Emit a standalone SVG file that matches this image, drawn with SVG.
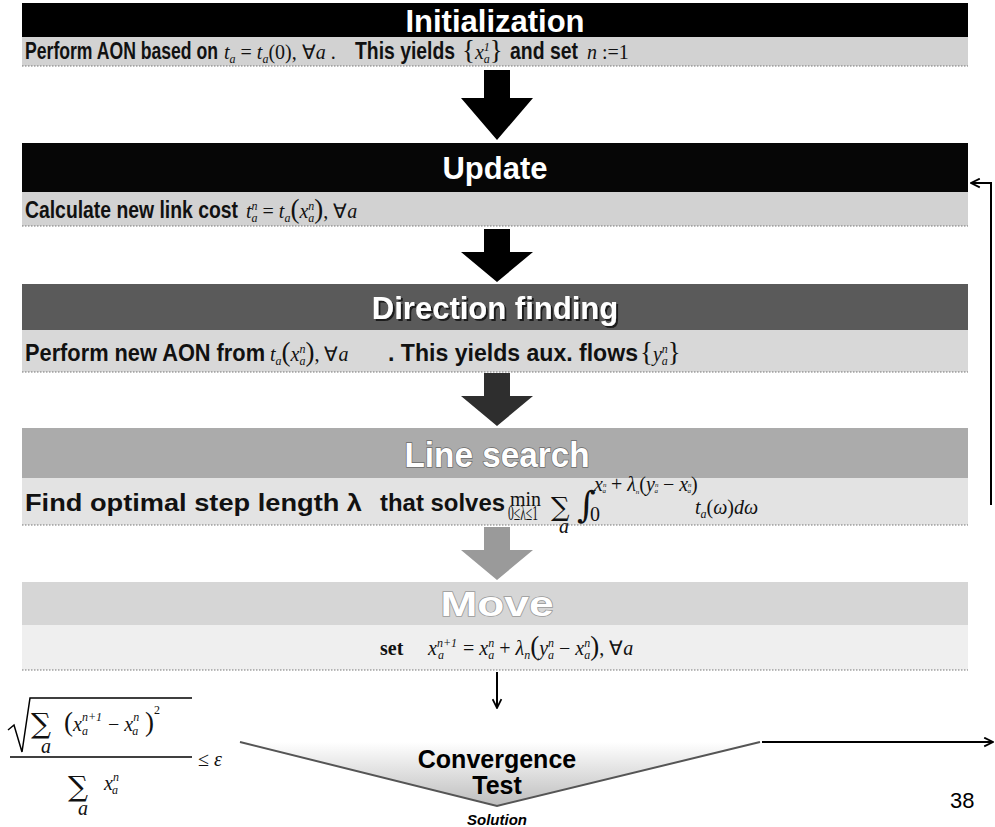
<svg xmlns="http://www.w3.org/2000/svg" width="995" height="827" viewBox="0 0 995 827">
<defs>
<style>
.ttl{font-family:"Liberation Sans",Arial,sans-serif;font-weight:bold;font-size:31px;fill:#fff;text-anchor:middle}
.emb{font-family:"Liberation Sans",Arial,sans-serif;font-weight:bold;font-size:35px;fill:#fff;text-anchor:middle;stroke-width:1.4;paint-order:stroke}
.s{font-family:"Liberation Sans",Arial,sans-serif;font-weight:bold;font-size:23px;fill:#111}
.m{font-family:"Liberation Serif","Times New Roman",serif;font-style:italic;font-size:20px;fill:#111}
.r{font-style:normal}
.sb{font-size:12px}
.op{font-family:"DejaVu Serif",serif;font-style:normal;fill:#111}
.dot{stroke:#777;stroke-width:1.2;stroke-dasharray:1.5 1.5}
.big{font-size:27px;font-style:normal}
</style>
<marker id="ah" viewBox="0 0 10 10" refX="9" refY="5" markerWidth="11" markerHeight="11" markerUnits="userSpaceOnUse" orient="auto">
<path d="M1,1 L9,5 L1,9" fill="none" stroke="#000" stroke-width="1.6"/>
</marker>
<linearGradient id="cg" x1="0" y1="0" x2="0" y2="1">
<stop offset="0" stop-color="#ffffff"/>
<stop offset="1" stop-color="#bdbdbd"/>
</linearGradient>
<filter id="sh" x="-10%" y="-30%" width="130%" height="160%">
<feDropShadow dx="2" dy="2" stdDeviation="0.6" flood-color="#1a1a1a" flood-opacity="1"/>
</filter>
</defs>
<rect width="995" height="827" fill="#fff"/>

<g id="initialization">
<rect x="22" y="3" width="946" height="34" fill="#000"/>
<rect x="22" y="37" width="946" height="29" fill="#d2d2d2"/>
<line class="dot" x1="22" y1="66" x2="968" y2="66"/>
<text class="ttl" x="495" y="32">Initialization</text>
<text class="s" x="25" y="59" textLength="193" lengthAdjust="spacingAndGlyphs">Perform AON based on</text>
<text class="m" x="224" y="59">t<tspan class="sb" dy="4">a</tspan><tspan class="r" dy="-4"> = </tspan>t<tspan class="sb" dy="4">a</tspan><tspan class="r" dy="-4">(0), ∀</tspan>a<tspan class="r"> .</tspan></text>
<text class="s" x="355" y="59" textLength="100" lengthAdjust="spacingAndGlyphs">This yields</text>
<text class="m" x="462" y="59"><tspan class="big">{</tspan>x<tspan class="sb" dy="-8">1</tspan><tspan class="sb" dx="-6" dy="12">a</tspan><tspan class="big" dy="-4">}</tspan></text>
<text class="s" x="510" y="59" textLength="68" lengthAdjust="spacingAndGlyphs">and set</text>
<text class="m" x="587" y="59">n<tspan class="r"> :=1</tspan></text>
</g>

<g id="update">
<rect x="22" y="143" width="946" height="49" fill="#060606"/>
<rect x="22" y="192" width="946" height="34" fill="#d2d2d2"/>
<line class="dot" x1="22" y1="226" x2="968" y2="226"/>
<text class="ttl" x="495" y="179">Update</text>
<text class="s" x="25" y="218" textLength="213" lengthAdjust="spacingAndGlyphs">Calculate new link cost</text>
<text class="m" x="246" y="218">t<tspan class="sb" dy="-8">n</tspan><tspan class="sb" dx="-6" dy="12">a</tspan><tspan class="r" dy="-4"> = </tspan>t<tspan class="sb" dy="4">a</tspan><tspan class="big" dy="-4">(</tspan>x<tspan class="sb" dy="-8">n</tspan><tspan class="sb" dx="-6" dy="12">a</tspan><tspan class="big" dy="-4">)</tspan><tspan class="r">, ∀</tspan>a</text>
</g>

<g id="direction-finding">
<rect x="22" y="284" width="946" height="46" fill="#5a5a5a"/>
<rect x="22" y="330" width="946" height="42" fill="#d8d8d8"/>
<line class="dot" x1="22" y1="372" x2="968" y2="372"/>
<text class="ttl" x="495" y="319" filter="url(#sh)">Direction finding</text>
<text class="s" x="25" y="361" textLength="240" lengthAdjust="spacingAndGlyphs">Perform new AON from</text>
<text class="m" x="270" y="361">t<tspan class="sb" dy="4">a</tspan><tspan class="big" dy="-4">(</tspan>x<tspan class="sb" dy="-8">n</tspan><tspan class="sb" dx="-6" dy="12">a</tspan><tspan class="big" dy="-4">)</tspan><tspan class="r">, ∀</tspan>a</text>
<text class="s" x="388" y="361" textLength="250" lengthAdjust="spacingAndGlyphs">. This yields aux. flows</text>
<text class="m" x="640" y="361"><tspan class="big">{</tspan>y<tspan class="sb" dy="-8">n</tspan><tspan class="sb" dx="-6" dy="12">a</tspan><tspan class="big" dy="-4">}</tspan></text>
</g>

<g id="line-search">
<rect x="22" y="428" width="946" height="50" fill="#ababab"/>
<rect x="22" y="478" width="946" height="47" fill="#e3e3e3"/>
<line class="dot" x1="22" y1="525" x2="968" y2="525"/>
<text class="emb" x="497" y="467" stroke="#6a6a6a" textLength="185" lengthAdjust="spacingAndGlyphs">Line search</text>
<text class="s" x="25" y="511" textLength="337" lengthAdjust="spacingAndGlyphs">Find optimal step length λ</text>
<text class="s" x="380" y="511" textLength="125" lengthAdjust="spacingAndGlyphs">that solves</text>
<text class="m r" x="510" y="506" font-size="15">min</text>
<text class="m r" x="508" y="520" font-size="7" textLength="30" lengthAdjust="spacingAndGlyphs">0≤λ≤1</text>
<text class="op" x="551" y="516" font-size="26">∑</text>
<text class="m" x="559" y="533" font-size="9">a</text>
<text class="op" x="577" y="517" font-size="36">∫</text>
<text class="m r" x="590" y="521" font-size="9">0</text>
<text class="m" x="594" y="491" font-size="11">x<tspan font-size="7" dy="-4">n</tspan><tspan font-size="7" dx="-4" dy="6">a</tspan><tspan class="r" dy="-2"> + </tspan>λ<tspan font-size="7" dy="3">n</tspan><tspan class="r" dy="-3">(</tspan>y<tspan font-size="7" dy="-4">n</tspan><tspan font-size="7" dx="-4" dy="6">a</tspan><tspan class="r" dy="-2"> − </tspan>x<tspan font-size="7" dy="-4">n</tspan><tspan font-size="7" dx="-4" dy="6">a</tspan><tspan class="r" dy="-2">)</tspan></text>
<text class="m" x="695" y="514">t<tspan class="sb" dy="4">a</tspan><tspan class="r" dy="-4">(</tspan>ω<tspan class="r">)</tspan>dω</text>
</g>

<g id="move">
<rect x="22" y="582" width="946" height="43" fill="#d6d6d6"/>
<rect x="22" y="625" width="946" height="45" fill="#efefef"/>
<line class="dot" x1="22" y1="670" x2="968" y2="670"/>
<text class="emb" x="497" y="616" stroke="#9a9a9a" textLength="113" lengthAdjust="spacingAndGlyphs">Move</text>
<text class="m r" x="380" y="655" font-weight="bold" font-size="19">set</text>
<text class="m" x="428" y="655">x<tspan class="sb" dy="-8">n+1</tspan><tspan class="sb" dx="-19" dy="12">a</tspan><tspan class="r" dx="14" dy="-4"> = </tspan>x<tspan class="sb" dy="-8">n</tspan><tspan class="sb" dx="-6" dy="12">a</tspan><tspan class="r" dy="-4"> + </tspan>λ<tspan class="sb" dy="4">n</tspan><tspan class="big" dy="-4">(</tspan>y<tspan class="sb" dy="-8">n</tspan><tspan class="sb" dx="-6" dy="12">a</tspan><tspan class="r" dy="-4"> − </tspan>x<tspan class="sb" dy="-8">n</tspan><tspan class="sb" dx="-6" dy="12">a</tspan><tspan class="big" dy="-4">)</tspan><tspan class="r">, ∀</tspan>a</text>
</g>

<g id="convergence-test">
<polygon points="240,742 760,742 497,806" fill="url(#cg)"/>
<path d="M240,742 L497,806 L760,742" fill="none" stroke="#555" stroke-width="2"/>
<text x="497" y="768" font-family="Liberation Sans,Arial,sans-serif" font-weight="bold" font-size="25" text-anchor="middle" fill="#000">Convergence</text>
<text x="497" y="794" font-family="Liberation Sans,Arial,sans-serif" font-weight="bold" font-size="25" text-anchor="middle" fill="#000">Test</text>
</g>

<g id="criterion">
<path d="M8,730 L14,725 L22,752 L30,698 L192,698" fill="none" stroke="#000" stroke-width="1.5"/>
<text class="op" x="31" y="733" font-size="28">∑</text>
<text class="m" x="41" y="753" font-size="10">a</text>
<text class="m" x="64" y="731" font-size="22"><tspan class="big" font-size="32">(</tspan>x<tspan class="sb" font-size="13" dy="-10">n+1</tspan><tspan class="sb" font-size="13" dx="-20" dy="14">a</tspan><tspan class="r" dx="15" dy="-4"> − </tspan>x<tspan class="sb" font-size="13" dy="-10">n</tspan><tspan class="sb" font-size="13" dx="-7" dy="14">a</tspan><tspan class="big" font-size="32" dy="-4"> )</tspan><tspan class="sb r" font-size="13" dy="-17">2</tspan></text>
<line x1="10" y1="757" x2="192" y2="757" stroke="#000" stroke-width="1.5"/>
<text class="m r" x="198" y="766" font-size="21">≤ <tspan font-style="italic">ε</tspan></text>
<text class="op" x="68" y="796" font-size="28">∑</text>
<text class="m" x="104" y="790" font-size="22">x<tspan class="sb" font-size="13" dy="-9">n</tspan><tspan class="sb" font-size="13" dx="-7" dy="13">a</tspan></text>
<text class="m" x="78" y="815" font-size="10">a</text>
</g>

<g id="labels">
<text x="497" y="825" font-family="Liberation Sans,Arial,sans-serif" font-weight="bold" font-style="italic" font-size="15" text-anchor="middle">Solution</text>
<text x="950" y="808" font-family="Liberation Sans,Arial,sans-serif" font-size="22">38</text>
</g>

<g id="connectors">
<path d="M484,70 H510 V98 H533 L497,140 L461,98 H484 Z" fill="#000"/>
<path d="M484,229 H510 V252 H533 L497,282 L461,252 H484 Z" fill="#000"/>
<path d="M484,373 H510 V396 H533 L497,426 L461,396 H484 Z" fill="#2e2e2e"/>
<path d="M484,527 H510 V550 H533 L497,580 L461,550 H484 Z" fill="#9a9a9a"/>
<line x1="497" y1="672" x2="497" y2="708" stroke="#000" stroke-width="2" marker-end="url(#ah)"/>
<line x1="762" y1="742" x2="993" y2="742" stroke="#000" stroke-width="2" marker-end="url(#ah)"/>
<path d="M991,505 V183 H971" fill="none" stroke="#000" stroke-width="2" marker-end="url(#ah)"/>
</g>
</svg>
